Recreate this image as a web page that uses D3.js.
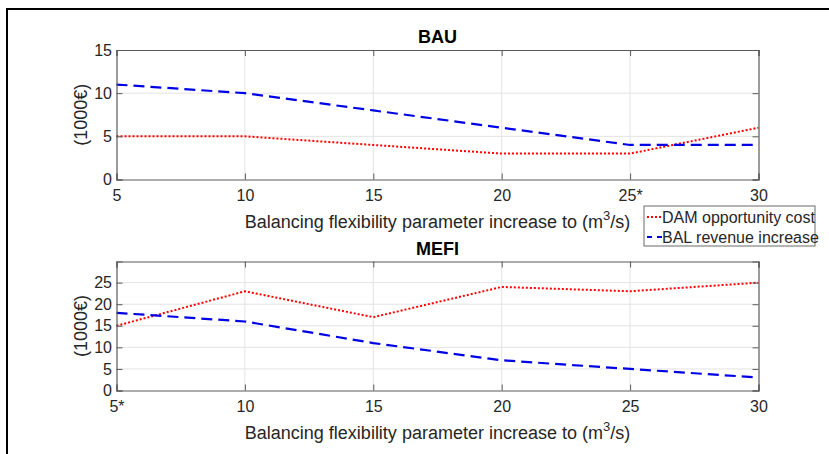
<!DOCTYPE html>
<html>
<head>
<meta charset="utf-8">
<script src="https://cdn.jsdelivr.net/npm/d3@7"></script>
<style>
  body { margin: 0; background: #fff; }
  svg { display: block; font-family: 'Liberation Sans', Arial, sans-serif; }
</style>
</head>
<body>
<div id="chart"></div>
<script>
// flexibility parameter steps
const xs = [5, 10, 15, 20, 25, 30]
const bauTickLabels = ['5', '10', '15', '20', '25*', '30']
const mefiTickLabels = ['5*', '10', '15', '20', '25', '30']

// BAU scenario (1000€)
const bauDam = [5, 5, 4, 3, 3, 6]
const bauBal = [11, 10, 8, 6, 4, 4]

// MEFI scenario (1000€)
const mefiDam = [15, 23, 17, 24, 23, 25]
const mefiBal = [18, 16, 11, 7, 5, 3]

const bauYTicks = [0, 5, 10, 15]
const mefiYTicks = [0, 5, 10, 15, 20, 25]

const W = 829
const H = 454
const textCol = '#262626'

const svg = d3.select('#chart').append('svg')
  .attr('width', W)
  .attr('height', H)

// figure frame
svg.append('rect')
  .attr('x', 7).attr('y', 9)
  .attr('width', W).attr('height', H)
  .attr('fill', 'none')
  .attr('stroke', '#000')
  .attr('stroke-width', 2)

const x = d3.scaleLinear().domain([5, 30]).range([116.5, 758.5])

const panel = (opts) => {
  const { top, bottom, ymax, yTicks, tickLabels, dam, bal, title } = opts
  const y = d3.scaleLinear().domain([0, ymax]).range([bottom, top])
  const g = svg.append('g')

  // grid
  g.append('g').selectAll('line').data(xs.slice(1, -1)).join('line')
    .attr('x1', d => x(d)).attr('x2', d => x(d))
    .attr('y1', top).attr('y2', bottom)
    .attr('stroke', '#e3e3e3').attr('stroke-width', 1)
  g.append('g').selectAll('line').data(yTicks.filter(d => d > 0 && d < ymax)).join('line')
    .attr('x1', x.range()[0]).attr('x2', x.range()[1])
    .attr('y1', d => y(d)).attr('y2', d => y(d))
    .attr('stroke', '#e3e3e3').attr('stroke-width', 1)

  const line = d3.line().x((d, i) => x(xs[i])).y(d => y(d))

  g.append('path').datum(dam)
    .attr('d', line)
    .attr('fill', 'none')
    .attr('stroke', '#ff0000')
    .attr('stroke-width', 2)
    .attr('stroke-dasharray', '2,2')

  g.append('path').datum(bal)
    .attr('d', line)
    .attr('fill', 'none')
    .attr('stroke', '#0000e6')
    .attr('stroke-width', 2.2)
    .attr('stroke-dasharray', '11,6')

  // axes with inward ticks (MATLAB style)
  const xAxis = d3.axisBottom(x).tickValues(xs).tickSize(-6).tickPadding(10)
    .tickFormat((d, i) => tickLabels[i])
  const xTop = d3.axisTop(x).tickValues(xs).tickSize(-6).tickFormat('')
  const yAxis = d3.axisLeft(y).tickValues(yTicks).tickSize(-6).tickPadding(4.5)
  const yRight = d3.axisRight(y).tickValues(yTicks).tickSize(-6).tickFormat('')

  const styleAxis = sel => {
    sel.select('.domain').attr('stroke', '#5a5a5a').attr('stroke-width', 1.2)
    sel.selectAll('.tick line').attr('stroke', '#5a5a5a')
    sel.selectAll('text').attr('fill', textCol).style('font-size', '16px')
  }

  g.append('g').attr('transform', `translate(0,${bottom})`).call(xAxis).call(styleAxis)
  g.append('g').attr('transform', `translate(0,${top})`).call(xTop).call(styleAxis)
  g.append('g').attr('transform', `translate(${x.range()[0]},0)`).call(yAxis).call(styleAxis)
  g.append('g').attr('transform', `translate(${x.range()[1]},0)`).call(yRight).call(styleAxis)

  // title
  g.append('text')
    .attr('x', (x.range()[0] + x.range()[1]) / 2)
    .attr('y', top - 7)
    .attr('text-anchor', 'middle')
    .attr('font-weight', 'bold')
    .attr('font-size', 18)
    .attr('fill', '#000')
    .text(title)

  // x label
  const xl = g.append('text')
    .attr('x', (x.range()[0] + x.range()[1]) / 2)
    .attr('y', bottom + 48)
    .attr('text-anchor', 'middle')
    .attr('font-size', 18)
    .attr('fill', textCol)
  xl.append('tspan').text('Balancing flexibility parameter increase to (m')
  xl.append('tspan').attr('dy', -8).attr('font-size', 13).text('3')
  xl.append('tspan').attr('dy', 8).text('/s)')

  // y label
  g.append('text')
    .attr('transform', `translate(87,${(top + bottom) / 2}) rotate(-90)`)
    .attr('text-anchor', 'middle')
    .attr('font-size', 18)
    .attr('fill', textCol)
    .text('(1000€)')
}

panel({ top: 50, bottom: 179.5, ymax: 15, yTicks: bauYTicks, tickLabels: bauTickLabels, dam: bauDam, bal: bauBal, title: 'BAU' })
panel({ top: 261.5, bottom: 390.5, ymax: 29.9, yTicks: mefiYTicks, tickLabels: mefiTickLabels, dam: mefiDam, bal: mefiBal, title: 'MEFI' })

// legend
const leg = svg.append('g').attr('transform', 'translate(644,206)')
leg.append('rect')
  .attr('width', 171).attr('height', 40)
  .attr('fill', '#fff')
  .attr('stroke', '#6b6b6b')
  .attr('stroke-width', 1)

const legItems = [
  { label: 'DAM opportunity cost', color: '#ff0000', dash: '2,2', w: 2 },
  { label: 'BAL revenue increase', color: '#0000e6', dash: '5,5', w: 2.2 }
]
legItems.forEach((d, i) => {
  const yy = 11 + i * 20
  leg.append('line')
    .attr('x1', 3).attr('x2', 18)
    .attr('y1', yy).attr('y2', yy)
    .attr('stroke', d.color)
    .attr('stroke-width', d.w)
    .attr('stroke-dasharray', d.dash)
  leg.append('text')
    .attr('x', 18).attr('y', yy)
    .attr('dy', '0.35em')
    .attr('font-size', 16)
    .attr('fill', textCol)
    .text(d.label)
})
</script>
</body>
</html>
